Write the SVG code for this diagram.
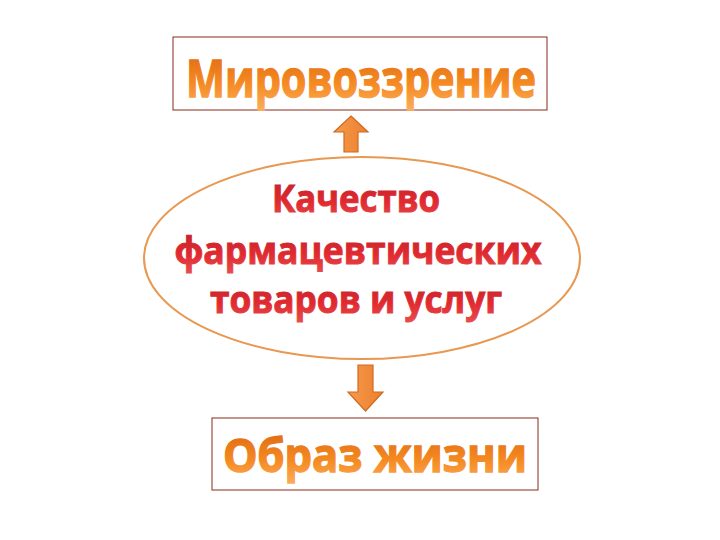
<svg xmlns="http://www.w3.org/2000/svg" width="720" height="540" viewBox="0 0 720 540">
<defs>
<linearGradient id="og" x1="0" y1="0" x2="0" y2="1">
<stop offset="0" stop-color="#d9600e"/>
<stop offset="0.6" stop-color="#f58a22"/>
<stop offset="1" stop-color="#fbb060"/>
</linearGradient>
<linearGradient id="rg" x1="0" y1="0" x2="0" y2="1">
<stop offset="0" stop-color="#b8202a"/>
<stop offset="0.6" stop-color="#e02a30"/>
<stop offset="1" stop-color="#e85050"/>
</linearGradient>
<linearGradient id="ag" x1="0" y1="0" x2="1" y2="0">
<stop offset="0" stop-color="#f59a4a"/>
<stop offset="1" stop-color="#ec8030"/>
</linearGradient>
</defs>
<style>
.box{fill:#fff;stroke:#8a2a1a;stroke-width:1}
.ot{font-family:"Open Sans","DejaVu Sans",sans-serif;font-weight:bold;fill:url(#og);stroke:url(#og);stroke-width:1.4;text-anchor:middle}
.rt{font-family:"Open Sans","DejaVu Sans",sans-serif;font-weight:bold;fill:url(#rg);stroke:url(#rg);stroke-width:1;text-anchor:middle;font-size:38px}
.arr{fill:url(#ag);stroke:#d06a20;stroke-width:1.2}
</style>
<rect width="720" height="540" fill="#fff"/>
<g id="worldview">
<rect class="box" x="173" y="37" width="374" height="73"/>
<text class="ot" x="361" y="97" font-size="52" textLength="350" lengthAdjust="spacingAndGlyphs">Мировоззрение</text>
</g>
<g id="quality">
<ellipse cx="362" cy="258" rx="218" ry="101" fill="#fff" stroke="#e89850" stroke-width="2"/>
<text class="rt" x="356" y="212" textLength="168" lengthAdjust="spacingAndGlyphs">Качество</text>
<text class="rt" x="358" y="264" textLength="367" lengthAdjust="spacingAndGlyphs">фармацевтических</text>
<text class="rt" x="356" y="313" textLength="292" lengthAdjust="spacingAndGlyphs">товаров и услуг</text>
</g>
<g id="lifestyle">
<rect class="box" x="212" y="418" width="326" height="72"/>
<text class="ot" x="375" y="472" font-size="47" textLength="304" lengthAdjust="spacingAndGlyphs">Образ жизни</text>
</g>
<g id="connectors">
<path class="arr" d="M351,116 L368,132 L358,132 L358,152 L344,152 L344,132 L334,132 Z"/>
<path class="arr" d="M358,365 L373,365 L373,392 L383,392 L365.5,411 L348,392 L358,392 Z"/>
</g>
</svg>
